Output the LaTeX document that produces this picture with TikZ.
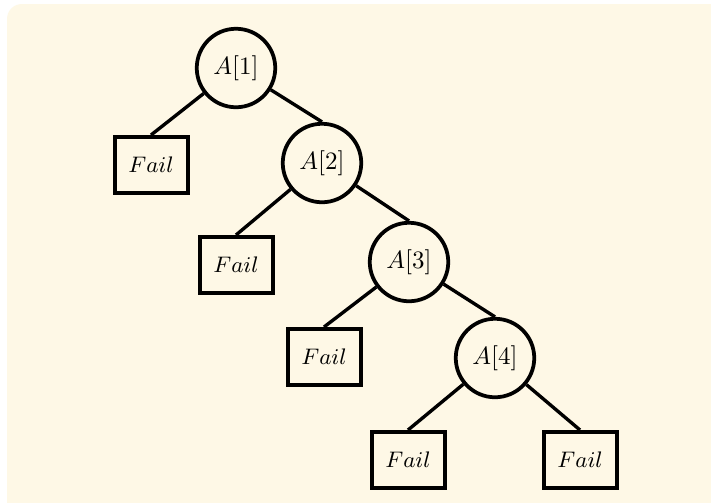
\documentclass[tikz,border=0pt]{standalone}
\begin{document}
\begin{tikzpicture}[x=0.4pt,y=-0.4pt,
  inner/.style={circle,draw,line width=1.5pt,minimum size=31.4pt,inner sep=0pt,font=\normalsize},
  leaf/.style={rectangle,draw,line width=1.6pt,minimum width=29.2pt,minimum height=22.4pt,inner sep=0pt,font=\small},
  branch/.style={line width=1.35pt}]
\definecolor{paper}{RGB}{254,248,230}
\useasboundingbox (0,0) rectangle (711,502);
\fill[white] (0,0) rectangle (711,502);
\begin{scope}
  \clip (0,0) rectangle (711,502);
  \fill[paper,rounded corners=6pt] (7,4) rectangle (740,530);
\end{scope}
% internal nodes
\node[inner] (a1) at (236,68) {$A[1]$};
\node[inner] (a2) at (322,163) {$A[2]$};
\node[inner] (a3) at (409,262) {$A[3]$};
\node[inner] (a4) at (495,358) {$A[4]$};
% failure leaves
\node[leaf] (f1) at (151,165) {$Fail$};
\node[leaf] (f2) at (236,265) {$Fail$};
\node[leaf] (f3) at (324,357) {$Fail$};
\node[leaf] (f4) at (408,460) {$Fail$};
\node[leaf] (f5) at (580,460) {$Fail$};
% branches
\draw[branch] (a1) -- (f1.north);
\draw[branch] (a1) -- (a2.north);
\draw[branch] (a2) -- (f2.north);
\draw[branch] (a2) -- (a3.north);
\draw[branch] (a3) -- (f3.north);
\draw[branch] (a3) -- (a4.north);
\draw[branch] (a4) -- (f4.north);
\draw[branch] (a4) -- (f5.north);
\end{tikzpicture}
\end{document}
